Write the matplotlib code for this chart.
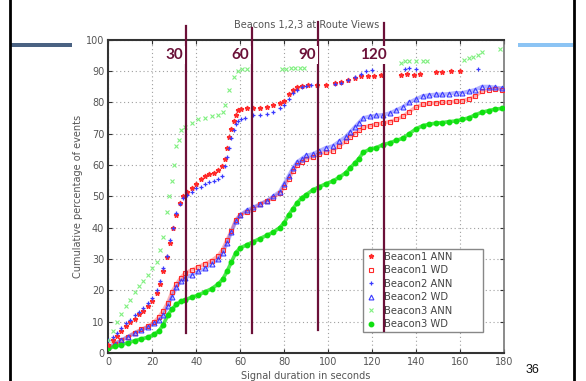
import matplotlib
matplotlib.use("Agg")
import matplotlib.pyplot as plt
from matplotlib.lines import Line2D
from matplotlib.patches import Rectangle

# ---------------- data ----------------
title = "Beacons 1,2,3 at Route Views"
xlabel = "Signal duration in seconds"
ylabel = "Cumulative percentage of events"
xticks = [0, 20, 40, 60, 80, 100, 120, 140, 160, 180]
yticks = [0, 10, 20, 30, 40, 50, 60, 70, 80, 90, 100]
marks = ["30", "60", "90", "120"]
slide_no = "36"

wd_x = [0, 3, 6, 9, 12, 15, 18, 21, 23, 25, 27, 29, 31, 33, 35, 38, 41, 44, 47, 50,
        52, 54, 56, 58, 60, 63, 66, 69, 72, 75, 78, 80, 82, 84, 86, 88, 90, 93, 96, 99,
        102, 105, 108, 110, 112, 114, 116, 119, 122, 125, 128, 131, 134, 137, 140, 143,
        146, 149, 152, 155, 158, 161, 164, 167, 170, 173, 176, 179]
b1_wd = [1.5, 2.8, 4.0, 5.2, 6.5, 7.5, 8.5, 10, 11.5, 13.5, 16, 19.5, 22, 24, 25.5, 26.5,
         27.5, 28.5, 29.5, 31, 33, 36, 39, 42.5, 44, 45, 46, 47.5, 48.5, 49.5, 51, 53,
         55.5, 58, 60, 61, 62, 62.5, 63.5, 64, 64.5, 66, 67.5, 69, 70, 71, 72, 72.5, 73,
         73.3, 73.8, 74.5, 75.5, 77, 78.5, 79.3, 79.6, 79.8, 80, 80, 80.3, 80.5, 81, 82,
         83.5, 84, 84.3, 84]
b2_wd = [2, 3, 4.2, 5.2, 6.3, 7.3, 8.3, 9.5, 10.5, 12, 15, 18, 21, 23, 24, 25, 26, 27,
         28.5, 30, 32, 35, 38.5, 42, 44, 45.5, 46.5, 47.5, 48.5, 50, 51.5, 54, 56.5, 59,
         61, 62, 63, 63.5, 64.5, 65.5, 66, 67.5, 69, 70.5, 72, 73.5, 75, 75.5, 75.8, 76,
         76.5, 77.5, 78.5, 80, 81, 82, 82.3, 82.5, 82.5, 82.7, 83, 83, 83.5, 84, 85, 85,
         84.7, 84.5]
b3_wd = [1.5, 2.1, 2.7, 3.3, 3.9, 4.5, 5.0, 6.0, 7, 9, 12, 14, 15.5, 16.5, 17, 17.8,
         18.5, 19.5, 20.5, 22, 23.5, 26, 29, 32, 33.5, 34.5, 35.5, 36.5, 37.5, 38.5, 40,
         41.5, 44, 46, 48, 49.5, 50.5, 52, 53, 54, 54.8, 56, 57.5, 59, 60.5, 62, 64, 65,
         65.5, 66.5, 67, 67.8, 68.5, 70, 71.5, 72.5, 73, 73.3, 73.5, 73.8, 74, 74.5, 75,
         76, 76.8, 77.3, 77.8, 78]

b1_ann_x = [0, 2, 4, 6, 8, 10, 12, 14, 16, 18, 20, 22, 23.5, 25, 26.5, 28, 29.5, 31,
            32.5, 34, 36, 38, 40, 42, 44, 46, 48, 50, 51.5, 53, 54, 55, 56, 57, 58, 59,
            60.5, 63, 66, 69, 72, 75, 78, 80, 82, 84, 86, 88, 91, 95, 99, 103, 106, 109,
            112, 115, 118, 121, 124, 133, 136, 139, 142, 149, 152, 156, 160]
b1_ann = [2.5, 4, 5.5, 7, 8.5, 10, 11, 12.5, 13.5, 15, 16.5, 19, 22, 26, 30.5, 35, 40,
          44, 48, 50, 51.5, 52.5, 54, 55.5, 56.5, 57, 57.5, 58.5, 59.5, 62, 65.5, 69,
          71.5, 74, 76, 77.5, 77.8, 78, 78.3, 78.3, 78.5, 79, 79.7, 80.5, 82.5, 84, 84.8,
          85.2, 85.5, 85.6, 85.6, 86, 86.3, 87, 87.8, 88.3, 88.5, 88.5, 88.6, 88.8, 89,
          88.8, 89, 89.5, 89.7, 89.8, 90]

b2_ann_x = [0, 2, 4, 6, 8, 10, 12, 14, 16, 18, 20, 22, 23.5, 25, 26.5, 28, 29.5, 31,
            32.5, 34, 36, 38, 40, 42, 44, 46, 48, 50, 51.5, 53, 54, 55, 56, 57, 58, 59,
            60.5, 62, 66, 69, 72, 75, 78, 80, 82, 84, 86, 88, 90, 92, 103, 106, 109, 112,
            115, 117, 120, 135, 137, 140, 168]
b2_ann = [4, 5, 6.5, 8, 9.5, 10.5, 12, 13, 14.5, 16, 17.5, 20, 23, 27, 31, 36, 40, 44.5,
          47.5, 49.5, 50.5, 51.5, 52.5, 53, 54, 54.5, 55, 55.5, 56.5, 59.5, 62.5, 65.5,
          68.5, 71, 73, 74, 74.5, 75, 75.8, 76, 76.3, 76.8, 78, 79, 81, 82.8, 84, 84.8,
          85.3, 85.5, 85.7, 86, 87, 88, 89, 90, 90.3, 90.5, 90.8, 90.7, 90.5]

b3_ann_x = [0, 2, 4, 6, 8, 10, 12, 14, 16, 18, 20, 22, 23.5, 25, 26.5, 27.5, 29, 30, 31,
            32, 33, 35, 38, 41, 44, 47, 50, 52, 53, 55, 57, 59, 61, 63, 79, 81, 83, 85, 87,
            89, 133, 135, 137, 140, 143, 145, 162, 164, 166, 168, 170, 178]
b3_ann = [4, 7, 10, 12.5, 15, 17, 19.5, 21.5, 23, 25, 27, 29, 33, 37, 45, 50, 55, 60,
          66, 68, 71, 72, 73.5, 74.5, 75, 75.5, 76, 77, 79, 84, 88, 90, 90.5, 90.5, 90.5,
          90.7, 91, 91, 91, 91, 92.5, 93, 93, 93, 93, 93, 93.5, 94, 94.5, 95, 96, 97]

# ---------------- figure ----------------
W, H = 586, 381
fig = plt.figure(figsize=(W / 100, H / 100), dpi=100)
fig.patch.set_facecolor("white")

def fx(x):
    return x / W

def fy(y):
    return 1 - y / H

# slide decorations
fig.add_artist(Rectangle((fx(11), fy(46.7)), fx(72) - fx(11), (46.7 - 42.7) / H,
                         transform=fig.transFigure, facecolor="#4a6282", edgecolor="none"))
fig.add_artist(Rectangle((fx(518), fy(46.7)), fx(573) - fx(518), (46.7 - 42.7) / H,
                         transform=fig.transFigure, facecolor="#8cc4f4", edgecolor="none"))
fig.add_artist(Line2D([fx(10), fx(10)], [0, 1], transform=fig.transFigure,
                      color="black", lw=2))
fig.add_artist(Line2D([fx(573.5), fx(573.5)], [0, 1], transform=fig.transFigure,
                      color="black", lw=2))

ax = fig.add_axes([fx(108.3), fy(353), fx(504) - fx(108.3), (353 - 39.5) / H])
gray = "#555555"

ax.plot(wd_x, b1_wd, color="#ff4040", lw=2.6, alpha=0.4, zorder=2)
ax.plot(wd_x, b1_wd, ls="none", marker="s", ms=3.5, mfc="none", mec="#ff2a2a",
        mew=0.8, label="Beacon1 WD", zorder=3)
ax.plot(wd_x, b2_wd, color="#4040ff", lw=2.6, alpha=0.4, zorder=2)
ax.plot(wd_x, b2_wd, ls="none", marker="^", ms=3.5, mfc="none", mec="#3a3aff",
        mew=0.8, label="Beacon2 WD", zorder=3)
ax.plot(wd_x, b3_wd, color="#00e000", lw=2.6, alpha=0.7, zorder=2)
ax.plot(wd_x, b3_wd, ls="none", marker="o", ms=3.2, mfc="#10e010", mec="#10e010",
        label="Beacon3 WD", zorder=3)
ax.plot(b1_ann_x, b1_ann, ls="none", marker="*", ms=3.5, color="#ff2a2a",
        label="Beacon1 ANN", zorder=4)
ax.plot(b2_ann_x, b2_ann, ls="none", marker="+", ms=3.5, mew=0.9, color="#3a3aff",
        label="Beacon2 ANN", zorder=4)
ax.plot(b3_ann_x, b3_ann, ls="none", marker="x", ms=3, mew=0.8, color="#80f080",
        label="Beacon3 ANN", zorder=4)

ax.set_xlim(0, 180)
ax.set_ylim(0, 100)
ax.set_xticks(xticks)
ax.set_yticks(yticks)
ax.tick_params(direction="in", length=3, labelsize=7, colors="#333333",
               labelcolor=gray, top=True, right=True, pad=3)
ax.grid(True, ls=(0, (1, 2.5)), color="#a0a0a0", lw=0.8)
for s in ["left", "top", "bottom"]:
    ax.spines[s].set_color("#333333")
    ax.spines[s].set_linewidth(1.5)
ax.spines["right"].set_color("#777777")
ax.spines["right"].set_linewidth(1.2)
ax.set_title(title, fontsize=7, color=gray, pad=8)
ax.set_xlabel(xlabel, fontsize=7, color=gray, labelpad=3)
ax.set_ylabel(ylabel, fontsize=7, color=gray, labelpad=2)

h, l = ax.get_legend_handles_labels()
order = ["Beacon1 ANN", "Beacon1 WD", "Beacon2 ANN", "Beacon2 WD", "Beacon3 ANN", "Beacon3 WD"]
hd = dict(zip(l, h))
leg = ax.legend([hd[k] for k in order], order, loc="lower left",
                bbox_to_anchor=(0.643, 0.066, 0.305, 0.281), mode="expand",
                fontsize=7.2, frameon=True, fancybox=False, framealpha=1,
                edgecolor="#888888", handlelength=1.0, handletextpad=0.8,
                labelspacing=0.35, borderpad=0.3, borderaxespad=0)
for t in leg.get_texts():
    t.set_color("#444444")

# overlay annotation lines and labels
maroon = "#6b1038"
line_px = [186, 252, 318, 384]
line_top = [26, 28, 22, 23]
line_bot = [333, 333, 330, 331]
for xp, t0, t1 in zip(line_px, line_top, line_bot):
    fig.add_artist(Line2D([fx(xp), fx(xp)], [fy(t0), fy(t1)], transform=fig.transFigure,
                          color=maroon, lw=1.6, zorder=10))
lab_x = [174, 240, 307.5, 373]
for xp, s in zip(lab_x, marks):
    fig.text(fx(xp), fy(55), s, ha="center", va="center", fontsize=11,
             fontweight="bold", family="Lato", color=maroon, zorder=11,
             bbox=dict(facecolor="white", edgecolor="none", pad=1.5))

fig.text(fx(532), fy(370), slide_no, ha="center", va="center", fontsize=9,
         family="Liberation Sans", color="#111111")

fig.savefig("out.png", dpi=100)
